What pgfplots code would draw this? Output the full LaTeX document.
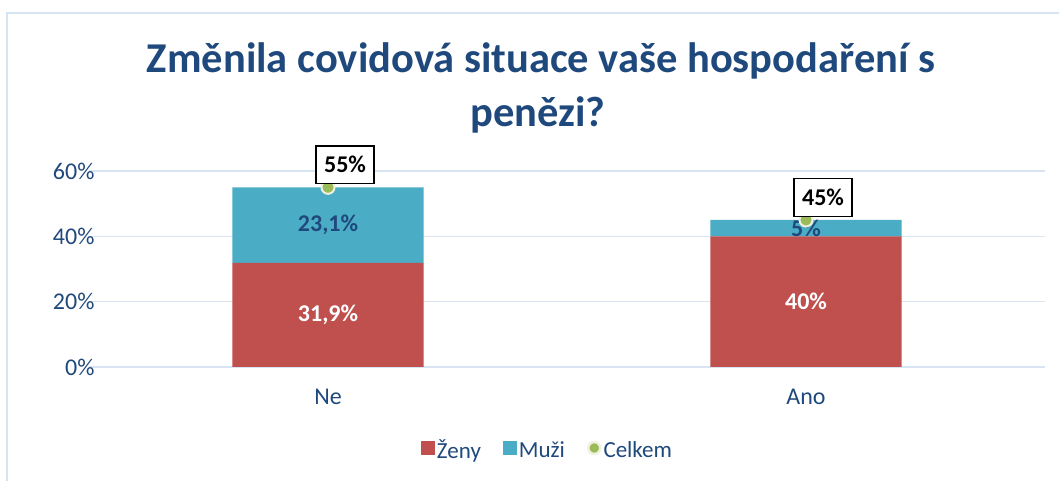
\documentclass[border=0pt]{standalone}
\usepackage{pgfplots}
\pgfplotsset{compat=1.18}
\usepackage{pgfplotstable}
\usepackage{fontspec}
\setmainfont{Carlito}
\definecolor{titleblue}{HTML}{1F497D}
\definecolor{zred}{HTML}{C0504D}
\definecolor{mteal}{HTML}{4BACC6}
\definecolor{cgreen}{HTML}{9BBB59}
\definecolor{cream}{HTML}{EEF0E0}
\definecolor{gridblue}{HTML}{D9E4F3}
\definecolor{frameblue}{HTML}{D6E3F3}

\pgfplotstableread{
x zeny muzi celkem
0 31.9 23.1 55
1 40 5 45
}\data

\begin{document}
\begin{tikzpicture}[x=1pt,y=1pt]
\useasboundingbox (0,0) rectangle (1059,481);
\draw[frameblue, line width=2pt] (7,0) -- (7,468) -- (1059,468);
\node[anchor=base, font=\fontsize{42.5}{50}\selectfont\bfseries, text=titleblue] at (541,408) {Změnila covidová situace vaše hospodaření s};
\node[anchor=base, font=\fontsize{42.5}{50}\selectfont\bfseries, text=titleblue] at (538,354) {penězi?};

\begin{axis}[
  at={(89pt,114pt)}, anchor=south west,
  scale only axis, width=956pt, height=196pt,
  xmin=-0.5, xmax=1.5, ymin=0, ymax=60,
  ybar stacked, bar width=0.4,
  axis line style={draw=none}, tick style={draw=none},
  ytick={0,20,40,60}, ymajorgrids, grid style={gridblue, line width=1.6pt},
  xtick={0,1}, xticklabels={Ne,Ano},
  tick label style={font=\fontsize{24}{28}\selectfont, text=titleblue},
  yticklabel style={xshift=9pt},
  xticklabel style={yshift=-19pt},
  yticklabel={\pgfmathprintnumber{\tick}\%},
  /pgf/number format/assume math mode=true,
  legend columns=3,
  legend style={at={(0.4796,-0.4235)}, anchor=center, draw=none, fill=none,
    font=\fontsize{23}{27}\selectfont, text=titleblue,
    /tikz/every even column/.append style={column sep=20pt}},
]
\addplot[fill=zred, draw=none,
  legend image code/.code={\fill[zred] (0pt,-5pt) rectangle (14pt,9pt);}]
  table[x=x, y=zeny] {\data};
\addlegendentry{Ženy}
\addplot[fill=mteal, draw=none,
  legend image code/.code={\fill[mteal] (0pt,-5pt) rectangle (14pt,9pt);}]
  table[x=x, y=muzi] {\data};
\addlegendentry{Muži}
\addlegendimage{legend image code/.code={\fill[cgreen, draw=cream, line width=2.5pt] (7pt,2pt) circle (6pt);}}
\addlegendentry{Celkem}
\end{axis}

\begin{axis}[
  at={(89pt,114pt)}, anchor=south west,
  scale only axis, width=956pt, height=196pt,
  xmin=-0.5, xmax=1.5, ymin=0, ymax=60,
  hide axis, clip=false,
  /pgf/number format/assume math mode=true,
]
\addplot[draw=none, mark=none, nodes near coords={\pgfmathprintnumber[use comma,fixed,precision=1]{\pgfplotspointmeta}\%},
  point meta=\thisrow{zeny},
  nodes near coords style={anchor=center, text=white, font=\fontsize{24}{28}\selectfont\bfseries}]
  table[x=x, y expr=\thisrow{zeny}/2] {\data};
\addplot[draw=none, mark=none, nodes near coords={\pgfmathprintnumber[use comma,fixed,precision=1]{\pgfplotspointmeta}\%},
  point meta=\thisrow{muzi},
  nodes near coords style={anchor=center, text=titleblue, font=\fontsize{24}{28}\selectfont\bfseries}]
  table[x=x, y expr=\thisrow{zeny}+\thisrow{muzi}/2] {\data};
\addplot[only marks, mark=*, mark size=6.5pt, mark options={fill=cgreen, draw=cream, line width=2pt},
  nodes near coords={\pgfmathprintnumber{\pgfplotspointmeta}\%},
  point meta=\thisrow{celkem},
  nodes near coords style={anchor=south, draw=black, fill=white, line width=1.3pt, text=black,
    font=\fontsize{24}{28}\selectfont\bfseries, inner xsep=8pt, inner ysep=10.5pt, xshift=17pt, yshift=3pt}]
  table[x=x, y=celkem] {\data};
\end{axis}
\end{tikzpicture}
\end{document}
